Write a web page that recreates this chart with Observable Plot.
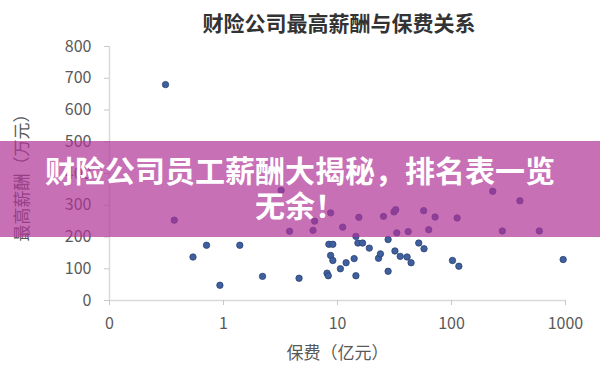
<!DOCTYPE html>
<html>
<head>
<meta charset="utf-8">
<script src="https://cdn.jsdelivr.net/npm/d3@7"></script>
<script src="https://cdn.jsdelivr.net/npm/@observablehq/plot@0.6"></script>
<style>
  body { margin: 0; background: #fff; }
  #wrap { position: relative; width: 600px; height: 379px; overflow: hidden;
          font-family: "Noto Sans CJK SC", "Noto Sans", sans-serif; }
  #chart { position: absolute; left: 0; top: 0; }
  #title { position: absolute; left: 0; top: 7px; width: 678px; text-align: center;
           font-size: 21px; font-weight: bold; color: #333; white-space: nowrap; }
  #banner { position: absolute; left: 0; top: 141px; width: 600px; height: 96px;
            background: rgba(175, 51, 151, 0.7); color: #fff; text-align: center;
            font-size: 30px; font-weight: bold; line-height: 35px; padding-top: 11px;
            box-sizing: border-box; white-space: nowrap; }
</style>
</head>
<body>
<div id="wrap">
  <div id="chart"></div>
  <div id="title">财险公司最高薪酬与保费关系</div>
  <div id="banner"><div>财险公司员工薪酬大揭秘，排名表一览</div><div>无余！</div></div>
</div>
<script>
// Premium income per property insurer (100 million yuan), log scale
const premium = [0.31, 0.37, 0.54, 0.71, 0.93, 1.39, 2.2, 4.6, 3.2, 3.8,
                 6.1, 6.3, 8.7, 8.4, 9.1, 8.7, 9.1, 10.6, 8.1, 8.3,
                 11.9, 14.0, 14.5, 14.5, 15.1, 16.6, 19.0, 22.9, 23.8, 27.8,
                 27.8, 31.9, 35.5, 40.8, 44.2, 51.6, 57.4, 102, 116, 954,
                 25.3, 31.3, 32.4, 57, 71.8, 112, 33.1, 41.7, 63.1, 230,
                 398, 279, 589, 15.4, 11.1];
// Highest executive pay at the same insurer (10 thousand yuan)
const salary = [680, 253, 137, 174, 48, 174, 76, 70, 347, 218,
                221, 250, 276, 177, 177, 142, 126, 100, 86, 78,
                119, 132, 202, 78, 181, 181, 165, 133, 147, 192,
                92, 156, 139, 137, 119, 181, 163, 126, 108, 129,
                265, 279, 286, 283, 263, 260, 213, 217, 223, 344,
                314, 219, 219, 262, 231];

const xTicks = [0.1, 1, 10, 100, 1000];
const xTickLabels = ["0", "1", "10", "100", "1000"];
const yTicks = [0, 100, 200, 300, 400, 500, 600, 700, 800];

const rows = premium.map((p, i) => ({premium: p, salary: salary[i]}));

const plot = Plot.plot({
  width: 600,
  height: 379,
  marginLeft: 109,
  marginRight: 35,
  marginTop: 46,
  marginBottom: 79,
  style: {fontFamily: '"Noto Sans CJK SC", sans-serif', fontSize: "16px", color: "#595959", background: "transparent"},
  x: {type: "log", domain: [0.1, 1000]},
  y: {domain: [0, 800]},
  marks: [
    Plot.ruleY([0], {stroke: "#d9d9d9", strokeWidth: 1.5}),
    Plot.ruleX([0.1], {stroke: "#d9d9d9", strokeWidth: 1.5}),
    Plot.axisX({ticks: xTicks, tickFormat: (d) => xTickLabels[xTicks.indexOf(d)],
                tickSize: 5, tickPadding: 12, stroke: "#c8c8c8", label: null}),
    Plot.axisX({ticks: [], label: "保费（亿元）", labelAnchor: "center", labelArrow: "none",
                labelOffset: 58, fontSize: 17}),
    Plot.axisY({ticks: yTicks, tickSize: 5, tickPadding: 13, stroke: "#c8c8c8", label: null}),
    Plot.axisY({ticks: [], label: "最高薪酬（万元）", labelAnchor: "center", labelArrow: "none",
                labelOffset: 94, fontSize: 17}),
    Plot.dot(rows, {x: "premium", y: "salary", r: 3.2, fill: "#3f5f9f", stroke: "#2b4374", strokeWidth: 0.8})
  ]
});
document.getElementById("chart").append(plot);
</script>
</body>
</html>
